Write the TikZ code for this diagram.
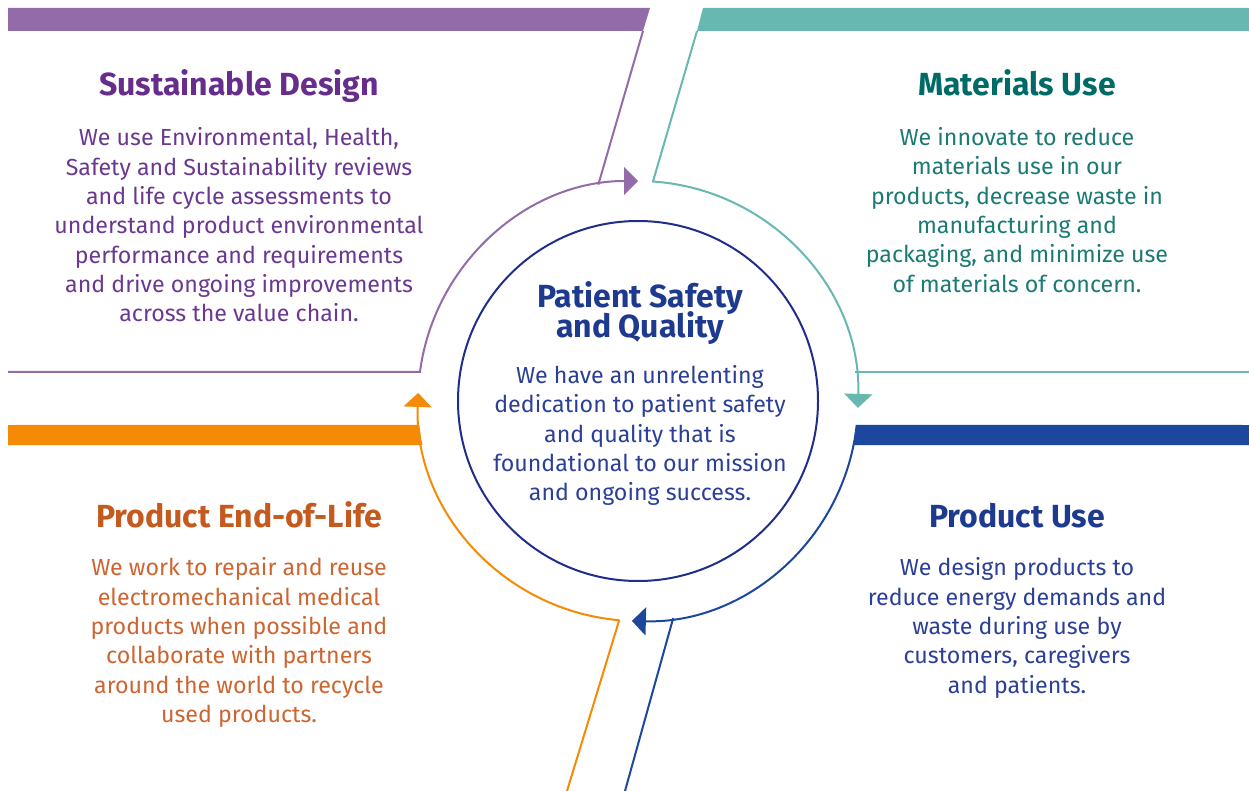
\documentclass[tikz,border=0pt]{standalone}
\usepackage{fontspec}
\setmainfont{Fira Sans}
\usetikzlibrary{arrows.meta,calc}
\definecolor{purpleC}{HTML}{936BA9}
\definecolor{purpleT}{HTML}{662D8C}
\definecolor{purpleB}{HTML}{6B3891}
\definecolor{tealC}{HTML}{66B8B0}
\definecolor{tealT}{HTML}{006B66}
\definecolor{tealB}{HTML}{1B7A73}
\definecolor{blueC}{HTML}{1B479C}
\definecolor{blueT}{HTML}{1E3A8F}
\definecolor{blueB}{HTML}{2B3F96}
\definecolor{ringC}{HTML}{1F2E8A}
\definecolor{orangeC}{HTML}{F58A07}
\definecolor{orangeT}{HTML}{C45A1E}
\definecolor{orangeB}{HTML}{CC6530}
\newcommand\mytightlines{\lineskiplimit=-100pt\relax\lineskip=0pt\relax}
\tikzset{
  thinline/.style={line width=1.5pt},
  tip/.style={-{Triangle[length=10.5pt,width=21pt]}},
  ttl/.style={font=\fontsize{24pt}{24pt}\selectfont\bfseries, anchor=base, inner sep=0pt},
  body/.style={font=\fontsize{17.4pt}{22pt}\selectfont, align=center, inner sep=0pt},
}
\begin{document}
\begin{tikzpicture}[x=0.75pt,y=-0.75pt]
\useasboundingbox (0,0) rectangle (1249,791);
\coordinate (C) at (638,401);
% purple
\fill[purpleC] (8,8) -- (650,8) -- (643,31) -- (8,31) -- cycle;
\coordinate (pj) at ($(C)+(259.6:220)$);
\coordinate (pl) at ($(C)+(187.6:220)$);
\coordinate (p0) at (8,372);
\coordinate (pt) at (643,31);
\draw[purpleC, thinline] (pt) -- (pj);
\draw[purpleC, thinline, tip] (p0) -- (pl) arc[start angle=187.6, end angle=270, radius=220];
% teal
\fill[tealC] (703,8) -- (1249,8) -- (1249,31) -- (697,31) -- cycle;
\coordinate (tt) at (697,31);
\coordinate (tj) at ($(C)+(273.9:220)$);
\coordinate (tl) at ($(C)+(352.5:220)$);
\coordinate (t1) at (1249,372);
\draw[tealC, thinline, tip] (tt) -- (tj) arc[start angle=273.9, end angle=361.8, radius=220];
\draw[tealC, thinline] (tl) -- (t1 -| tl) -- (t1);
% blue
\coordinate (ba) at ($(C)+(6.26:220)$);
\coordinate (bb) at ($(C)+(11.54:220)$);
\fill[blueC] (ba) -- (1249,425) -- (1249,445) -- (bb) arc[start angle=11.54, end angle=6.26, radius=220] -- cycle;
\draw[blueC, thinline, tip] (ba) arc[start angle=6.26, end angle=91.6, radius=220];
\coordinate (bj) at ($(C)+(80.8:220)$);
\coordinate (bz) at (625,791);
\draw[blueC, thinline] (bj) -- (bz);
% orange
\coordinate (oa) at ($(C)+(173.74:220)$);
\coordinate (ob) at ($(C)+(168.46:220)$);
\fill[orangeC] (8,425) -- (oa) arc[start angle=173.74, end angle=168.46, radius=220] -- (8,445) -- cycle;
\coordinate (oj) at ($(C)+(94.9:220)$);
\coordinate (oz) at (567,791);
\draw[orangeC, thinline, tip] (oj) arc[start angle=94.9, end angle=182.1, radius=220];
\draw[orangeC, thinline] (oj) -- (oz);
% centre
\node[circle, draw=ringC, line width=1.5pt, minimum size=270pt, inner sep=0pt] (core) at (C) {};
\node[font=\fontsize{24pt}{23pt}\selectfont\bfseries\mytightlines, align=center, inner sep=0pt, text=blueT] (coreT) at (640,313) {Patient Safety\\and Quality};
\node[body, text=blueB] (coreB) at (640,435.5) {We have an unrelenting\\dedication to patient safety\\and quality that is\\foundational to our mission\\and ongoing success.};
% texts
\node[ttl, text=purpleT] (sdT) at (239,95.5) {Sustainable Design};
\node[body, text=purpleB] (sdB) at (239,225) {We use Environmental, Health,\\Safety and Sustainability reviews\\and life cycle assessments to\\understand product environmental\\performance and requirements\\and drive ongoing improvements\\across the value chain.};
\node[ttl, text=tealT] (muT) at (1017,96) {Materials Use};
\node[body, text=tealB] (muB) at (1017,210) {We innovate to reduce\\materials use in our\\products, decrease waste in\\manufacturing and\\packaging, and minimize use\\of materials of concern.};
\node[ttl, text=blueT] (puT) at (1017,527) {Product Use};
\node[body, text=blueB] (puB) at (1017,628) {We design products to\\reduce energy demands and\\waste during use by\\customers, caregivers\\and patients.};
\node[ttl, text=orangeT] (peT) at (239,527) {Product End-of-Life};
\node[body, text=orangeB] (peB) at (239,642.5) {We work to repair and reuse\\electromechanical medical\\products when possible and\\collaborate with partners\\around the world to recycle\\used products.};
\end{tikzpicture}
\end{document}
